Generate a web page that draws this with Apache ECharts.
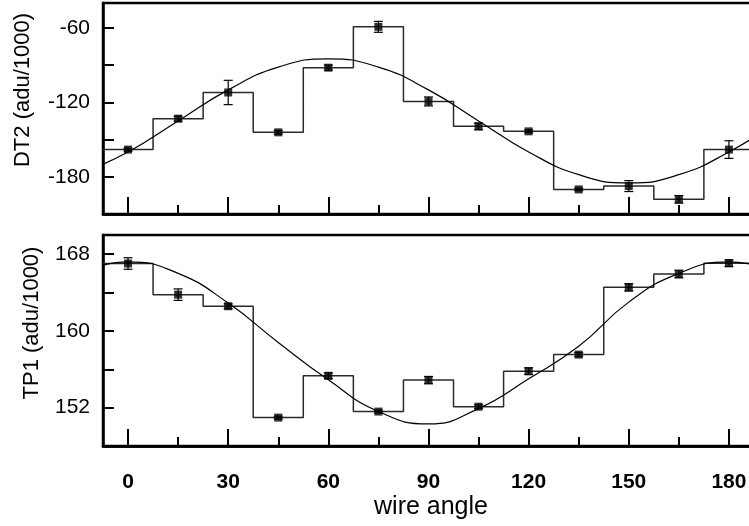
<!DOCTYPE html>
<html><head><meta charset="utf-8">
<script src="https://cdn.jsdelivr.net/npm/echarts@6/dist/echarts.min.js"></script>
<style>html,body{margin:0;padding:0;background:#fff}#c{width:749px;height:526px}</style>
</head><body><div id="c"></div>
<script>
// ---- data ----
const angles = [0, 15, 30, 45, 60, 75, 90, 105, 120, 135, 150, 165, 180];
const dt2 = [-158.1, -133.2, -112.1, -144.2, -92.1, -59.2, -119.3, -139.4, -143.4, -190.2, -187.5, -198.2, -158.1];
const dt2Err = [1.2, 2, 9.8, 1.5, 2, 4.4, 3.6, 2.7, 1.2, 1, 4.4, 3, 7.1];
const tp1 = [167.03, 163.78, 162.57, 150.96, 155.32, 151.59, 154.87, 152.1, 155.8, 157.53, 164.54, 165.93, 167.06];
const tp1Err = [0.6, 0.6, 0.25, 0.15, 0.3, 0.15, 0.38, 0.2, 0.35, 0.2, 0.38, 0.4, 0.35];
// fitted curves, read at 15-degree steps
const fitAngles = [-15, 0, 15, 30, 45, 60, 75, 90, 105, 120, 135, 150, 165, 180, 195];
const dt2Fit = [-178.3, -160, -135, -110, -91.7, -85, -91.7, -110, -135, -160, -178.3, -185, -178.3, -160, -135];
const tp1Fit = [166.0, 167.2, 166.0, 162.9, 158.8, 154.9, 151.6, 150.3, 151.9, 155.0, 158.4, 163.0, 166.0, 167.2, 166.0];
const binHalfWidth = 7.5;
// ticks / labels
const xTicks = [0, 30, 60, 90, 120, 150, 180];
const xMinorTicks = [15, 45, 75, 105, 135, 165];
const dt2TickStep = 30;
const dt2Labels = [-180, -120, -60];
const tp1TickStep = 4;
const tp1Labels = [152, 160, 168];

// ---- helpers ----
function stepData(vals) {
  const out = [];
  angles.forEach((a, i) => { out.push([a - binHalfWidth, vals[i]]); out.push([a + binHalfWidth, vals[i]]); });
  return out;
}
function zip(xs, ys) { return xs.map((x, i) => [x, ys[i]]); }
function errData(vals, errs) { return angles.map((a, i) => [a, vals[i], errs[i]]); }
function errRender(params, api) {
  const x = api.value(0), y = api.value(1), e = api.value(2);
  const t = api.coord([x, y + e]), b = api.coord([x, y - e]);
  const c = 4.5, st = { stroke: '#000', lineWidth: 1.2 };
  return { type: 'group', children: [
    { type: 'line', shape: { x1: t[0], y1: t[1], x2: b[0], y2: b[1] }, style: st },
    { type: 'line', shape: { x1: t[0] - c, y1: t[1], x2: t[0] + c, y2: t[1] }, style: st },
    { type: 'line', shape: { x1: b[0] - c, y1: b[1], x2: b[0] + c, y2: b[1] }, style: st }
  ]};
}
const FONT = '"Liberation Sans", Arial, sans-serif';
function xAx(grid, ticks, len, labels) {
  return {
    type: 'value', gridIndex: grid, position: 'bottom', min: -7.5, max: 195,
    axisLine: { show: true, onZero: false, lineStyle: { color: '#000', width: 2.5 } }, splitLine: { show: false },
    axisTick: { show: true, inside: true, length: len, customValues: ticks, lineStyle: { color: '#000', width: 2 } },
    axisLabel: labels ? { show: true, customValues: labels, fontSize: 21, fontWeight: 'bold', color: '#000', fontFamily: FONT, margin: 26 } : { show: false }
  };
}
function yAx(grid, min, max, step, labels) {
  return {
    type: 'value', gridIndex: grid, position: 'left', min: min, max: max, interval: step,
    axisLine: { show: true, onZero: false, lineStyle: { color: '#000', width: 2.5 } }, splitLine: { show: false },
    axisTick: { show: true, inside: true, length: 11, lineStyle: { color: '#000', width: 2 } },
    axisLabel: { show: true, fontSize: 21, color: '#000', fontFamily: FONT, margin: 13,
      formatter: v => (labels.indexOf(v) >= 0 ? String(v) : '') }
  };
}
function panelSeries(xi, yi, vals, errs, fit) {
  return [
    { type: 'line', xAxisIndex: xi, yAxisIndex: yi, data: stepData(vals), showSymbol: false, symbol: 'none',
      lineStyle: { color: '#2a2a2a', width: 1.5 }, z: 2 },
    { type: 'line', xAxisIndex: xi, yAxisIndex: yi, data: zip(fitAngles, fit), smooth: true, showSymbol: false, symbol: 'none',
      lineStyle: { color: '#000', width: 1.2 }, z: 3 },
    { type: 'custom', xAxisIndex: xi, yAxisIndex: yi, data: errData(vals, errs), renderItem: errRender, z: 4 },
    { type: 'scatter', xAxisIndex: xi, yAxisIndex: yi, data: zip(angles, vals), symbol: 'rect', symbolSize: 8,
      itemStyle: { color: '#000' }, z: 5 }
  ];
}

const chart = echarts.init(document.getElementById('c'));
chart.setOption({
  animation: false,
  backgroundColor: '#fff',
  grid: [
    { left: 103, top: 3, width: 676, height: 211, outerBoundsMode: 'none', containLabel: false, show: true, borderColor: '#000', borderWidth: 2.5, backgroundColor: 'transparent' },
    { left: 103, top: 235, width: 676, height: 211, outerBoundsMode: 'none', containLabel: false, show: true, borderColor: '#000', borderWidth: 2.5, backgroundColor: 'transparent' }
  ],
  xAxis: [
    xAx(0, xTicks, 17, null),
    xAx(0, xMinorTicks, 9, null),
    xAx(1, xTicks, 17, xTicks),
    xAx(1, xMinorTicks, 9, null)
  ],
  yAxis: [
    yAx(0, -210, -40, dt2TickStep, dt2Labels),
    yAx(1, 148, 170, tp1TickStep, tp1Labels)
  ],
  series: [].concat(panelSeries(0, 0, dt2, dt2Err, dt2Fit), panelSeries(2, 1, tp1, tp1Err, tp1Fit)),
  graphic: [
    { type: 'text', x: 23, y: 90, rotation: Math.PI / 2,
      style: { text: 'DT2 (adu/1000)', fontSize: 22, fontFamily: FONT, fill: '#000', align: 'center', verticalAlign: 'middle' } },
    { type: 'text', x: 32, y: 323, rotation: Math.PI / 2,
      style: { text: 'TP1 (adu/1000)', fontSize: 22, fontFamily: FONT, fill: '#000', align: 'center', verticalAlign: 'middle' } },
    { type: 'text', x: 431, y: 507,
      style: { text: 'wire angle', fontSize: 25, fontFamily: FONT, fill: '#000', align: 'center', verticalAlign: 'middle' } }
  ]
});
</script></body></html>
